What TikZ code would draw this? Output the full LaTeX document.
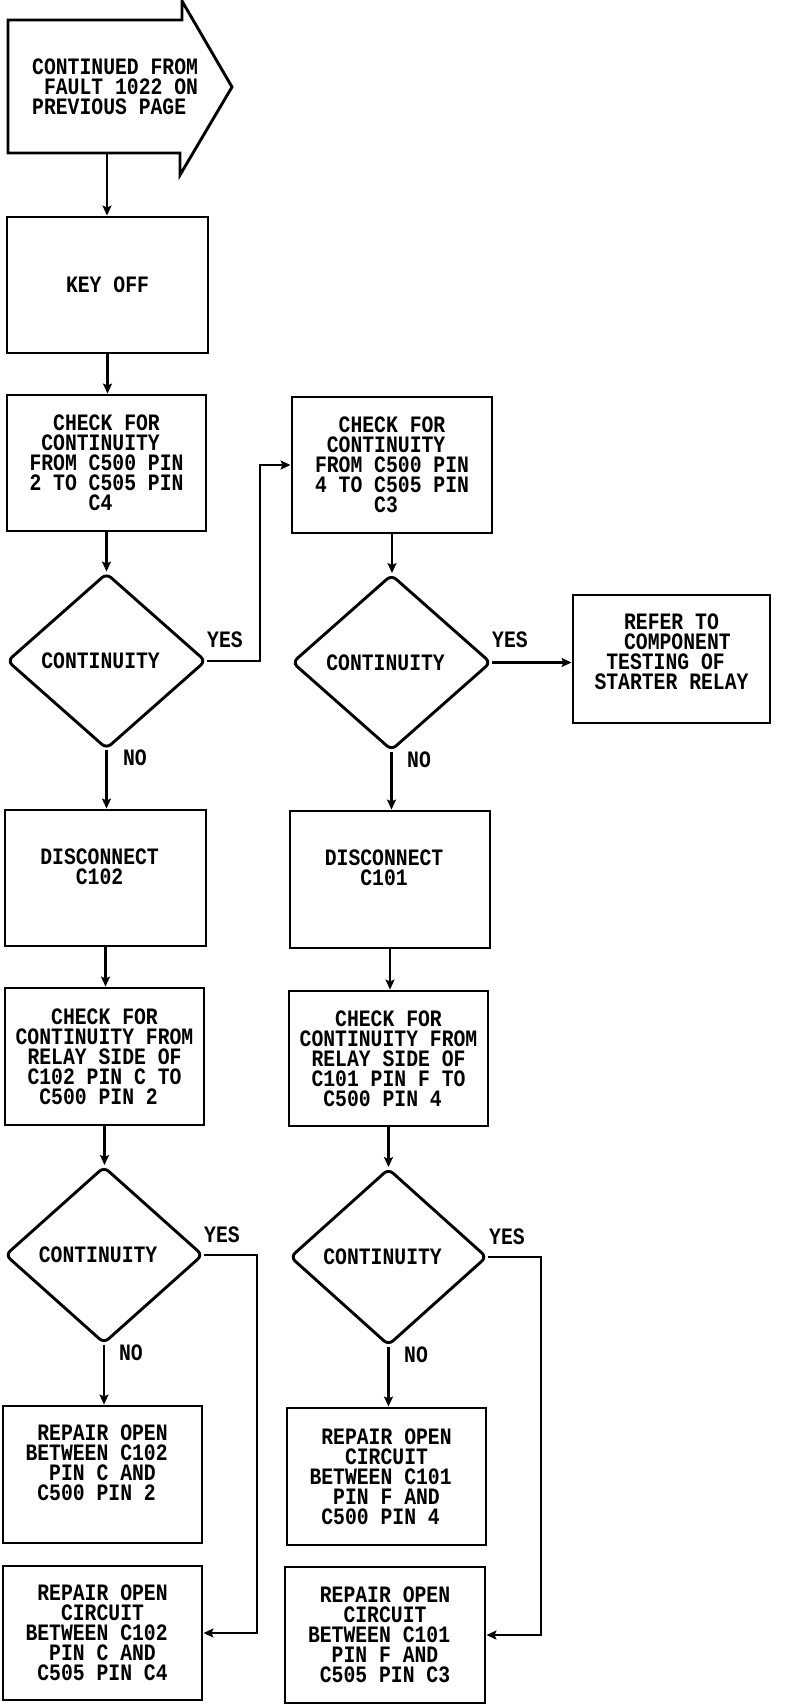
\documentclass[tikz,border=0pt]{standalone}
\usepackage{fontspec}
\usetikzlibrary{arrows.meta,shapes.geometric}
\newfontfamily\flowfont[FakeStretch=0.84]{Liberation Mono}
\newcommand\ftext{\flowfont\bfseries\fontsize{23.5}{20}\selectfont}
\newcommand\blank{\hphantom{0}}
\begin{document}
\begin{tikzpicture}[x=1pt,y=-1pt,
  lw/.style={line width=2.9pt},
  box/.style={draw, lw, rectangle, inner sep=0pt, align=center, font=\ftext},
  dia/.style={draw, lw, diamond, rounded corners=6pt, inner sep=0pt, minimum width=199pt, minimum height=176pt, font=\ftext},
  txt/.style={inner sep=0pt, align=center, font=\ftext},
  lbl/.style={inner sep=0pt, font=\ftext},
  conn/.style={lw, -{Stealth[length=10pt,width=9pt,inset=2pt]}}
]
\useasboundingbox (0,0) rectangle (800,1706);

% start connector shape
\draw[lw, line join=miter] (8,20) -- (182,20) -- (182,1) -- (232,87) -- (180,175) -- (180,153) -- (8,153) -- cycle;
\node[txt, align=left, anchor=west] (starttxt) at (32,87) {CONTINUED FROM\\\blank FAULT 1022 ON\\PREVIOUS PAGE};
\coordinate (startout) at (107,153);

% left column
\node[box, minimum width=201pt, minimum height=136pt] (keyoff) at (107.5,285) {KEY OFF};
\node[box, minimum width=199pt, minimum height=136pt] (chk1) at (106.5,463) {CHECK FOR\\CONTINUITY\blank\\FROM C500 PIN\\2 TO C505 PIN\\C4\blank};
\node[dia] (d1) at (106.5,661) {CONTINUITY\blank};
\node[box, minimum width=201pt, minimum height=136pt] (disc1) at (105.5,878) {};
\node[txt] (disc1t) at (105.5,867) {DISCONNECT\blank\\C102\blank};
\node[box, minimum width=199pt, minimum height=137pt] (chkL2) at (104.5,1056.5) {CHECK FOR\\CONTINUITY FROM\\RELAY SIDE OF\\C102 PIN C TO\\C500 PIN 2\blank};
\node[dia, minimum width=198pt, minimum height=177pt] (d3) at (104,1255) {CONTINUITY\blank};
\node[box, minimum width=199pt, minimum height=137pt] (repL1) at (102.5,1474.5) {};
\node[txt] (repL1t) at (102.5,1463) {REPAIR OPEN\\BETWEEN C102\blank\\PIN C AND\\C500 PIN 2\blank};
\node[box, minimum width=199pt, minimum height=134pt] (repL2) at (102.5,1633) {REPAIR OPEN\\CIRCUIT\\BETWEEN C102\blank\\PIN C AND\\C505 PIN C4};

% right column
\node[box, minimum width=200pt, minimum height=136pt] (chk2) at (392,465) {CHECK FOR\\CONTINUITY\blank\\FROM C500 PIN\\4 TO C505 PIN\\C3\blank};
\node[dia] (d2) at (391.5,662.5) {CONTINUITY\blank};
\node[box, minimum width=200pt, minimum height=137pt] (disc2) at (390,879.5) {};
\node[txt] (disc2t) at (390,868) {DISCONNECT\blank\\C101\blank};
\node[box, minimum width=199pt, minimum height=135pt] (chkR2) at (388.5,1058.5) {CHECK FOR\\CONTINUITY FROM\\RELAY SIDE OF\\C101 PIN F TO\\C500 PIN 4\blank};
\node[dia, minimum width=197pt, minimum height=177pt] (d4) at (388.5,1257) {CONTINUITY\blank};
\node[box, minimum width=199pt, minimum height=137pt] (repR1) at (386.5,1476.5) {REPAIR OPEN\\CIRCUIT\\BETWEEN C101\blank\\PIN F AND\\C500 PIN 4\blank};
\node[box, minimum width=200pt, minimum height=136pt] (repR2) at (385,1635) {REPAIR OPEN\\CIRCUIT\\BETWEEN C101\blank\\PIN F AND\\C505 PIN C3};

% far right
\node[box, minimum width=197pt, minimum height=128pt] (refer) at (671.5,659) {};
\node[txt] (refert) at (671.5,652) {REFER TO\\\blank COMPONENT\\TESTING OF\blank\\STARTER RELAY};

% routing coordinates
\coordinate (yl1) at (260,0);
\coordinate (yl3) at (257,0);
\coordinate (yl4) at (541,0);

% connectors
\draw[conn] (startout) -- (startout |- keyoff.north);
\draw[conn] (keyoff.south) -- (keyoff.south |- chk1.north);
\draw[conn] (chk1.south) -- (chk1.south |- d1.north);
\draw[conn] (d1.south) -- (d1.south |- disc1.north);
\draw[conn] (disc1.south) -- (disc1.south |- chkL2.north);
\draw[conn] (chkL2.south) -- (chkL2.south |- d3.north);
\draw[conn] (d3.south) -- (d3.south |- repL1.north);
\draw[conn] (d1.east) -- (d1.east -| yl1) -- (yl1 |- chk2.west) -- (chk2.west);
\draw[conn] (d3.east) -- (d3.east -| yl3) -- (yl3 |- repL2.east) -- (repL2.east);

\draw[conn] (chk2.south) -- (chk2.south |- d2.north);
\draw[conn] (d2.south) -- (d2.south |- disc2.north);
\draw[conn] (disc2.south) -- (disc2.south |- chkR2.north);
\draw[conn] (chkR2.south) -- (chkR2.south |- d4.north);
\draw[conn] (d4.south) -- (d4.south |- repR1.north);
\draw[conn] (d2.east) -- (d2.east -| refer.west);
\draw[conn] (d4.east) -- (d4.east -| yl4) -- (yl4 |- repR2.east) -- (repR2.east);

% labels
\node[lbl] (yes1) at (225,640) {YES};
\node[lbl] (no1) at (135,758) {NO};
\node[lbl] (yes2) at (510,640) {YES};
\node[lbl] (no2) at (419,760) {NO};
\node[lbl] (yes3) at (222,1235) {YES};
\node[lbl] (no3) at (131,1353) {NO};
\node[lbl] (yes4) at (507,1237) {YES};
\node[lbl] (no4) at (416,1355) {NO};
\end{tikzpicture}
\end{document}
